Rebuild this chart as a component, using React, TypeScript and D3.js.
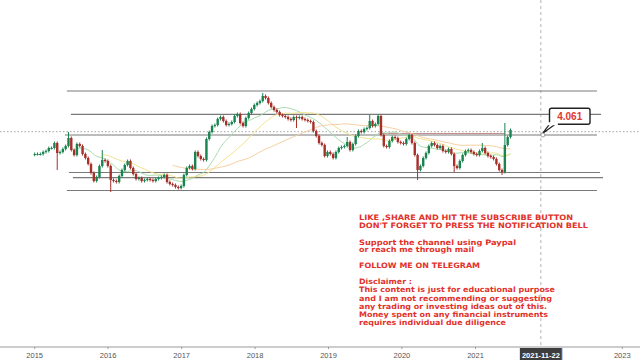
import React from "react";
import * as d3 from "d3";

// Bi-weekly closes (2015-01 .. 2021-06)
const closes = [
  3.838, 3.838, 3.838, 3.858, 3.868, 3.898, 3.898, 3.948, 3.848, 3.858,
  3.888, 3.918, 3.998, 3.878, 3.828, 3.938, 3.918, 3.838, 3.798, 3.738,
  3.648, 3.568, 3.608, 3.718, 3.778, 3.768, 3.718, 3.578, 3.568, 3.558,
  3.618, 3.678, 3.728, 3.768, 3.698, 3.638, 3.588, 3.598, 3.568, 3.578,
  3.588, 3.578, 3.568, 3.588, 3.598, 3.608, 3.628, 3.558, 3.538, 3.528,
  3.508, 3.498, 3.518, 3.628, 3.698, 3.718, 3.688, 3.858, 3.818, 3.788,
  3.778, 3.988, 4.058, 4.118, 4.128, 4.188, 4.208, 4.168, 4.128, 4.138,
  4.158, 4.218, 4.238, 4.148, 4.118, 4.198, 4.248, 4.288, 4.328, 4.348,
  4.368, 4.418, 4.398, 4.348, 4.308, 4.278, 4.258, 4.228, 4.218, 4.208,
  4.188, 4.178, 4.208, 4.198, 4.208, 4.188, 4.178, 4.168, 4.158, 4.068,
  4.018, 3.948, 3.928, 3.818, 3.858, 3.838, 3.798, 3.858, 3.898, 3.908,
  3.918, 3.958, 3.878, 3.938, 4.018, 4.068, 4.058, 4.088, 4.098, 4.168,
  4.118, 4.138, 4.218, 4.028, 3.918, 3.908, 3.968, 4.008, 3.998, 3.958,
  3.948, 3.938, 3.988, 4.028, 3.948, 3.828, 3.678, 3.718, 3.798, 3.848,
  3.918, 3.948, 3.928, 3.898, 3.918, 3.868, 3.858, 3.888, 3.838, 3.718,
  3.698, 3.768, 3.828, 3.868, 3.878, 3.858, 3.838, 3.828, 3.868, 3.898,
  3.848, 3.818, 3.808, 3.788, 3.738, 3.678, 3.658, 3.928, 4.008, 4.078,
];
const firstOpen = 3.83;

const wickHighIdx = [12, 24, 81, 111, 119, 159, 167];
const wickHighVal = [4.058, 3.878, 4.448, 4.008, 4.228, 3.948, 4.148];
const wickLowIdx = [8, 27, 93, 136, 149, 166];
const wickLowVal = [3.678, 3.458, 4.098, 3.578, 3.658, 3.628];

// Horizontal support/resistance levels
const levelPrices = [4.468, 4.235, 4.028, 3.653, 3.601, 3.473];
const levelStarts = ["2015-06-10", "2015-06-30", "2015-05-31", "2015-06-20", "2015-07-10", "2015-06-10"];
const levelEnds = ["2022-08-28", "2022-09-17", "2022-08-28", "2022-09-12", "2022-09-27", "2022-08-28"];

const prevLevel = { price: 4.043, start: "2019-09-24", end: "2021-05-28" };

const maPeriods = [14, 25, 50];
const maColors = ["#a9dcae", "#f3e38c", "#f6cfa2"];

const yearTickLabels = ["2015", "2016", "2017", "2018", "2019", "2020", "2021", "2023"];
const cursorDate = "2021-11-22";
const cursorPrice = 4.061;

const noteLines = [
  "LIKE ,SHARE AND HIT THE SUBSCRIBE BUTTON",
  "DON'T FORGET TO PRESS THE NOTIFICATION BELL",
  "",
  "Support the channel using Paypal",
  "or reach me through mail",
  "",
  "FOLLOW ME ON TELEGRAM",
  "",
  "Disclaimer :",
  "This content is just for educational purpose",
  "and I am not recommending or suggesting",
  "any trading or investing ideas out of this.",
  "Money spent on any financial instruments",
  "requires individual due diligence",
];
const noteWidths = [214, 229, 0, 157, 115, 0, 121, 0, 53, 196, 193, 188, 189, 147];
const noteY = [219.5, 228, 0, 244.5, 252.4, 0, 268, 0, 284, 292.3, 300.6, 308.9, 317.1, 325.2];

const parse = d3.timeParse("%Y-%m-%d");

export default function App() {
  const W = 640, H = 360;
  const x = d3.scaleTime().domain([new Date(2015, 0, 1), new Date(2023, 0, 1)]).range([34.7, 622.3]);
  const y = d3.scaleLinear().domain([cursorPrice, cursorPrice - 1]).range([131.7, 231.7]);

  const dates = closes.map((_, i) => d3.timeDay.offset(new Date(2015, 0, 1), i * 14));
  const candles = closes.map((c, i) => {
    const o = i === 0 ? firstOpen : closes[i - 1];
    let hi = Math.max(o, c) + 0.015;
    let lo = Math.min(o, c) - 0.015;
    const hk = wickHighIdx.indexOf(i);
    if (hk >= 0) hi = wickHighVal[hk];
    const lk = wickLowIdx.indexOf(i);
    if (lk >= 0) lo = wickLowVal[lk];
    return { d: dates[i], o, c, hi, lo };
  });

  const mas = maPeriods.map((p) =>
    closes.map((_, i) => (i >= p - 1 ? d3.mean(closes.slice(i - p + 1, i + 1)) : null))
  );
  const line = d3
    .line<number | null>()
    .defined((v) => v != null)
    .x((_, i) => x(dates[i]))
    .y((v) => y(v as number))
    .curve(d3.curveMonotoneX);

  const green = "#1a8450";
  const red = "#a8302a";
  const cx = x(parse(cursorDate)!);
  const cy = y(cursorPrice);
  const axisY = 347;
  const yearDates = yearTickLabels.map((t) => new Date(+t, 0, 1));

  return (
    <svg width={W} height={H} style={{ position: "absolute", left: 0, top: 0, background: "#fff" }}
      fontFamily="'Liberation Sans', Arial, sans-serif">
      <rect width={W} height={H} fill="#fff" />
      {/* crosshair */}
      <line x1={0} x2={W} y1={cy} y2={cy} stroke="#8a8a8a" strokeWidth={0.8} strokeDasharray="1.5,2" />
      <line x1={cx} x2={cx} y1={0} y2={axisY} stroke="#a0a0a0" strokeWidth={0.8} strokeDasharray="3,3" />

      {/* level lines */}
      {levelPrices.map((p, i) => (
        <line key={"lv" + i} x1={x(parse(levelStarts[i])!)} x2={x(parse(levelEnds[i])!)}
          y1={y(p)} y2={y(p)} stroke="#7a7a7a" strokeWidth={1.2} />
      ))}
      <line x1={x(parse(prevLevel.start)!)} x2={x(parse(prevLevel.end)!)} y1={y(prevLevel.price)} y2={y(prevLevel.price)}
        stroke="#9a3a3a" strokeWidth={0.8} opacity={0.7} />

      {/* moving averages */}
      {mas.map((m, k) => (
        <path key={"ma" + k} d={line(m) || ""} fill="none" stroke={maColors[k]} strokeWidth={1} />
      ))}

      {/* candles */}
      {candles.map((k, i) => {
        const col = k.c >= k.o ? green : red;
        const xx = x(k.d);
        const top = y(Math.max(k.o, k.c));
        const bot = y(Math.min(k.o, k.c));
        return (
          <g key={"c" + i}>
            <line x1={xx} x2={xx} y1={y(k.hi)} y2={y(k.lo)} stroke={col} strokeWidth={1} />
            <rect x={xx - 1.2} y={top} width={2.4} height={Math.max(1, bot - top)} fill={col} />
          </g>
        );
      })}

      {/* price callout */}
      <path d={`M ${cx + 9} ${cy - 8} L ${cx + 2} ${cy + 1.5} L ${cx + 15} ${cy - 8}`} fill="#fff" stroke="#222" strokeWidth={1.2} />
      <rect x={549.5} y={108.3} width={40.5} height={16} rx={2} fill="#fff" stroke="#222" strokeWidth={1.4} />
      <rect x={cx + 5} y={cy - 9.5} width={12} height={3} fill="#fff" />
      <text x={569.7} y={119.8} textAnchor="middle" fontSize={10} fontWeight="bold" fill="#e03a2f">
        {cursorPrice.toFixed(3)}
      </text>
      <circle cx={cx + 2} cy={y(4.028)} r={2} fill="#fff" stroke="#888" strokeWidth={0.8} />

      {/* notes */}
      {noteLines.map((t, i) =>
        t ? (
          <text key={"n" + i} x={359} y={noteY[i]} fontFamily="'DejaVu Sans', Verdana, sans-serif" fontWeight="bold"
            fontSize={7.4} fill="#e2322b" textLength={noteWidths[i]} lengthAdjust="spacingAndGlyphs">
            {t}
          </text>
        ) : null
      )}

      {/* time axis */}
      <line x1={0} x2={W} y1={axisY} y2={axisY} stroke="#9a9a9a" strokeWidth={1} />
      {yearDates.map((d, i) => (
        <g key={"t" + i}>
          <line x1={x(d)} x2={x(d)} y1={axisY} y2={axisY + 2} stroke="#9a9a9a" />
          <text x={x(d)} y={357.5} textAnchor="middle" fontSize={7.5} fill="#555">
            {yearTickLabels[i]}
          </text>
        </g>
      ))}
      <rect x={cx - 21} y={348} width={42} height={12} fill="#3d3d3d" />
      <line x1={cx + 21} x2={cx + 21} y1={348} y2={360} stroke="#2f6fd6" strokeWidth={1} />
      <text x={cx} y={357.5} textAnchor="middle" fontSize={7.5} fontWeight="bold" fill="#fff">
        {cursorDate}
      </text>
    </svg>
  );
}
